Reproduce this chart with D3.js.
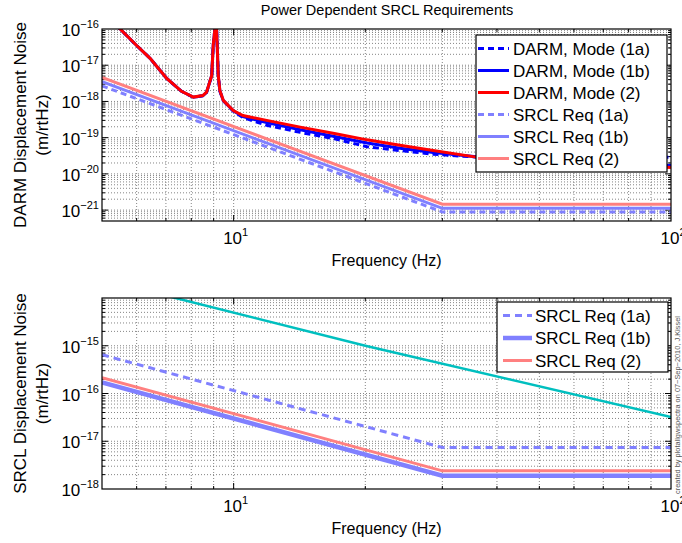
<!DOCTYPE html>
<html>
<head>
<meta charset="utf-8">
<script src="https://cdn.jsdelivr.net/npm/d3@7"></script>
<style>
    body { margin: 0; background: #fff; }
    svg { display: block; font-family: "Liberation Sans", Arial, Helvetica, sans-serif; }
</style>
</head>
<body>
<svg id="chart" width="682" height="543"></svg>
<script>
// DARM displacement noise curves (m/rtHz)
var freqDarm = [5, 5.5, 6, 6.44, 7.03, 7.6, 8.09, 8.5, 8.67, 8.91, 8.98, 9.06, 9.1, 9.14, 9.17, 9.22, 9.3, 9.47,
    9.98, 10.5, 11.9, 14.2, 17, 20.2, 24, 28.6, 35.9, 50, 70, 100];
var darmMode1a = [3.2e-16, 1.0e-16, 3.5e-17, 1.55e-17, 4.3e-18, 1.9e-18, 1.3e-18, 1.43e-18, 1.78e-18, 5.2e-18, 3.6e-17, 1.0e-16, 1.0e-15, 1.0e-16, 3.6e-17, 5.2e-18, 1.95e-18, 1.05e-18,
    5.4e-19, 3.6e-19, 2.2e-19, 1.4e-19, 9.3e-20, 5.6e-20, 4.4e-20, 3.5e-20, 2.9e-20, 2.9e-20, 2.9e-20, 2.9e-20];
var darmMode1b = [3.2e-16, 1.0e-16, 3.5e-17, 1.55e-17, 4.3e-18, 1.9e-18, 1.3e-18, 1.43e-18, 1.78e-18, 5.2e-18, 3.6e-17, 1.0e-16, 1.0e-15, 1.0e-16, 3.6e-17, 5.2e-18, 1.95e-18, 1.05e-18,
    5.5e-19, 3.8e-19, 2.6e-19, 1.66e-19, 1.07e-19, 7.1e-20, 5.1e-20, 3.9e-20, 2.95e-20, 2.4e-20, 2.0e-20, 1.7e-20];
var darmMode2 = [3.2e-16, 1.0e-16, 3.5e-17, 1.55e-17, 4.3e-18, 1.9e-18, 1.32e-18, 1.45e-18, 1.8e-18, 5.2e-18, 3.6e-17, 1.0e-16, 1.0e-15, 1.0e-16, 3.6e-17, 5.2e-18, 2.0e-18, 1.07e-18,
    5.6e-19, 4.1e-19, 3.0e-19, 1.95e-19, 1.3e-19, 8.7e-20, 6.2e-20, 4.4e-20, 2.9e-20, 2.35e-20, 1.85e-20, 1.5e-20];

// SRCL requirements, projected to DARM (top) and in SRCL (bottom)
var freqReq = [5, 30, 100];
var darmReq1a = [2.7e-18, 8.9e-22, 8.9e-22];
var darmReq1b = [3.5e-18, 1.12e-21, 1.12e-21];
var darmReq2 = [4.6e-18, 1.45e-21, 1.45e-21];
var srclReq1a = [6.5e-16, 7.4e-18, 7.4e-18];
var srclReq1b = [1.7e-16, 1.9e-18, 1.9e-18];
var srclReq2 = [2.15e-16, 2.4e-18, 2.4e-18];

// SRCL noise (cyan)
var freqSrclNoise = [5, 7.36, 20, 100];
var srclNoise = [2.5e-14, 1.0e-14, 1.0e-15, 3.2e-17];

var xTickLabels = [10, 100];
var yTickLabelsTop = [1e-21, 1e-20, 1e-19, 1e-18, 1e-17, 1e-16];
var yTickLabelsBottom = [1e-18, 1e-17, 1e-16, 1e-15];

var svg = d3.select("#chart");

var x = d3.scaleLog().domain([5, 100]).range([102, 671]);

function zip(xs, ys) {
    return xs.map(function (f, i) { return {f: f, v: ys[i]}; });
}

function supText(sel, v) {
    var e = Math.round(Math.log10(v));
    sel.append("tspan").text("10");
    sel.append("tspan").attr("dy", -8).attr("font-size", 11)
        .text(e < 0 ? "\u2212" + (-e) : e);
}

function drawPanel(p) {
    var y = p.y;
    var top = y.range()[1], bottom = y.range()[0];
    var left = x.range()[0], right = x.range()[1];
    var g = svg.append("g");

    // dotted grid, major and minor
    var xg = x.ticks().filter(function (d) { return d > 5 && d < 100; });
    var yg = y.ticks().filter(function (d) { return y(d) > top + 0.5 && y(d) < bottom - 0.5; });

    g.selectAll(".gx").data(xg).enter().append("line")
        .attr("x1", function (d) { return x(d); }).attr("x2", function (d) { return x(d); })
        .attr("y1", top).attr("y2", bottom)
        .attr("stroke", "#666").attr("stroke-width", 0.8).attr("stroke-dasharray", "1,2");
    g.selectAll(".gy").data(yg).enter().append("line")
        .attr("x1", left).attr("x2", right)
        .attr("y1", function (d) { return y(d); }).attr("y2", function (d) { return y(d); })
        .attr("stroke", "#666").attr("stroke-width", 0.8).attr("stroke-dasharray", "1,2");

    // inward ticks on all four sides
    function isMajor(d) { return Math.abs(Math.log10(d) - Math.round(Math.log10(d))) < 1e-6; }
    g.selectAll(".tx").data(xg.concat(xg)).enter().append("line")
        .attr("x1", function (d) { return x(d); }).attr("x2", function (d) { return x(d); })
        .attr("y1", function (d, i) { return i < xg.length ? bottom : top; })
        .attr("y2", function (d, i) {
            var len = isMajor(d) ? 6 : 3;
            return i < xg.length ? bottom - len : top + len;
        })
        .attr("stroke", "#000").attr("stroke-width", 1);
    g.selectAll(".ty").data(yg.concat(yg)).enter().append("line")
        .attr("y1", function (d) { return y(d); }).attr("y2", function (d) { return y(d); })
        .attr("x1", function (d, i) { return i < yg.length ? left : right; })
        .attr("x2", function (d, i) {
            var len = isMajor(d) ? 6 : 3;
            return i < yg.length ? left + len : right - len;
        })
        .attr("stroke", "#000").attr("stroke-width", 1);

    // series
    svg.append("clipPath").attr("id", p.id)
        .append("rect").attr("x", left).attr("y", top)
        .attr("width", right - left).attr("height", bottom - top);

    var line = d3.line()
        .x(function (d) { return x(d.f); })
        .y(function (d) { return y(d.v); });

    g.append("g").attr("clip-path", "url(#" + p.id + ")")
        .selectAll("path")
        .data(p.series)
        .enter()
        .append("path")
        .attr("d", function (s) { return line(zip(s.x, s.v)); })
        .attr("fill", "none")
        .attr("stroke", function (s) { return s.color; })
        .attr("stroke-width", function (s) { return s.width; })
        .attr("stroke-dasharray", function (s) { return s.dash || null; });

    // box
    g.append("rect").attr("x", left).attr("y", top)
        .attr("width", right - left).attr("height", bottom - top)
        .attr("fill", "none").attr("stroke", "#000").attr("stroke-width", 1.2);

    // tick labels
    g.selectAll(".yl").data(p.yLabels).enter().append("text")
        .attr("x", 99).attr("y", function (d) { return y(d) + 7; })
        .attr("text-anchor", "end").attr("font-size", 17)
        .each(function (d) { supText(d3.select(this), d); });
    g.selectAll(".xl").data(xTickLabels).enter().append("text")
        .attr("x", function (d) { return x(d) + 2; }).attr("y", bottom + 23)
        .attr("text-anchor", "middle").attr("font-size", 17)
        .each(function (d) { supText(d3.select(this), d); });

    g.append("text").attr("x", (left + right) / 2).attr("y", bottom + 45)
        .attr("text-anchor", "middle").attr("font-size", 16)
        .text("Frequency (Hz)");

    var yl = g.append("text")
        .attr("transform", "translate(26," + ((top + bottom) / 2) + ") rotate(-90)")
        .attr("text-anchor", "middle").attr("font-size", 17);
    yl.append("tspan").attr("x", 0).attr("y", 0).text(p.yTitle);
    yl.append("tspan").attr("x", 0).attr("y", 22).text("(m/rtHz)");

    // legend
    var L = p.legend;
    var lg = g.append("g");
    lg.append("rect").attr("x", L.x).attr("y", L.y).attr("width", L.w).attr("height", L.h)
        .attr("fill", "#fff").attr("stroke", "#000").attr("stroke-width", 1.2);
    var rows = lg.selectAll(".row").data(L.items).enter().append("g")
        .attr("transform", function (d, i) { return "translate(0," + (L.y0 + i * L.step) + ")"; });
    rows.append("line")
        .attr("x1", L.lx1).attr("x2", L.lx2).attr("y1", 0).attr("y2", 0)
        .attr("stroke", function (d) { return d.color; })
        .attr("stroke-width", function (d) { return d.width; })
        .attr("stroke-dasharray", function (d) { return d.dash || null; });
    rows.append("text").attr("x", L.tx).attr("y", 6)
        .attr("font-size", 17)
        .text(function (d) { return d.label; });
}

// top panel
var topSeries = [
    {x: freqDarm, v: darmMode1a, color: "#0000ff", width: 3, dash: "6,4", label: "DARM, Mode (1a)"},
    {x: freqDarm, v: darmMode1b, color: "#0000ff", width: 3, label: "DARM, Mode (1b)"},
    {x: freqDarm, v: darmMode2, color: "#ff0000", width: 3, label: "DARM, Mode (2)"},
    {x: freqReq, v: darmReq1a, color: "#8080ff", width: 3, dash: "6,4", label: "SRCL Req (1a)"},
    {x: freqReq, v: darmReq1b, color: "#8080ff", width: 3, label: "SRCL Req (1b)"},
    {x: freqReq, v: darmReq2, color: "#ff8080", width: 3, label: "SRCL Req (2)"}
];

drawPanel({
    id: "clipTop",
    y: d3.scaleLog().domain([5e-22, 1e-16]).range([221, 29]),
    series: topSeries,
    yLabels: yTickLabelsTop,
    yTitle: "DARM Displacement Noise",
    legend: {x: 476, y: 35, w: 191, h: 137, y0: 48.5, step: 22, lx1: 478, lx2: 509, tx: 513, items: topSeries}
});

// bottom panel
var bottomSeries = [
    {x: freqReq, v: srclReq1a, color: "#8080ff", width: 3, dash: "7,5", label: "SRCL Req (1a)"},
    {x: freqReq, v: srclReq1b, color: "#8080ff", width: 4.5, label: "SRCL Req (1b)"},
    {x: freqReq, v: srclReq2, color: "#ff8080", width: 3, label: "SRCL Req (2)"},
    {x: freqSrclNoise, v: srclNoise, color: "#00bfbf", width: 2.5}
];

drawPanel({
    id: "clipBottom",
    y: d3.scaleLog().domain([1e-18, 1e-14]).range([489, 298]),
    series: bottomSeries,
    yLabels: yTickLabelsBottom,
    yTitle: "SRCL Displacement Noise",
    legend: {x: 497, y: 302, w: 171, h: 70, y0: 315.5, step: 22.5, lx1: 503, lx2: 532, tx: 535, items: bottomSeries.slice(0, 3)}
});

// title and stamp
svg.append("text").attr("x", 387).attr("y", 15)
    .attr("text-anchor", "middle").attr("font-size", 14.5)
    .text("Power Dependent SRCL Requirements");

svg.append("text")
    .attr("transform", "translate(680,494) rotate(-90)")
    .attr("font-size", 7.4).attr("fill", "#555")
    .text("created by plotallgwspectra on 07\u2212Sep\u22122010, J.Kissel");
</script>
</body>
</html>
